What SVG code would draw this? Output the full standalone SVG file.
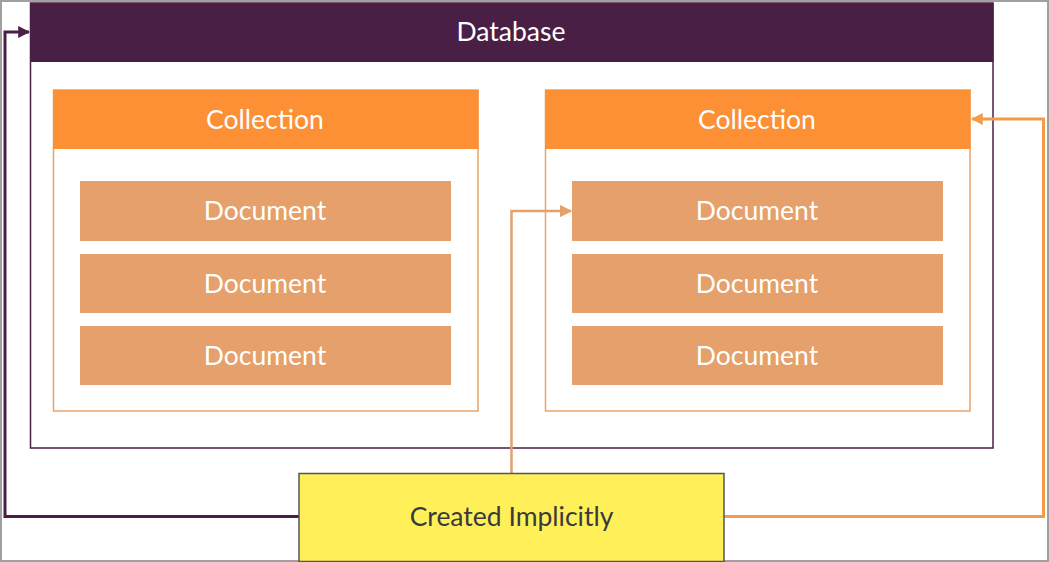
<svg xmlns="http://www.w3.org/2000/svg" width="1049" height="562" viewBox="0 0 1049 562">
<style>
.t{font-family:Lato,"Open Sans","Liberation Sans",sans-serif;font-size:26.5px;text-anchor:middle;dominant-baseline:central}
.w{fill:#ffffff}
.doc{fill:#e5a06b}
.coll{fill:#ffffff;stroke:#e9a265;stroke-width:1.5}
.chead{fill:#fd9035}
</style>
<defs>
<marker id="ap" viewBox="0 0 10 10" refX="9" refY="5" markerWidth="4" markerHeight="4" orient="auto" markerUnits="strokeWidth"><path d="M0,0L10,5L0,10z" fill="#4a1f45"/></marker>
<marker id="ao" viewBox="0 0 10 10" refX="9" refY="5" markerWidth="4" markerHeight="4" orient="auto" markerUnits="strokeWidth"><path d="M0,0L10,5L0,10z" fill="#f39a4b"/></marker>
<marker id="ad" viewBox="0 0 10 10" refX="9" refY="5" markerWidth="5" markerHeight="5" orient="auto" markerUnits="strokeWidth"><path d="M0,0L10,5L0,10z" fill="#e5a06b"/></marker>
</defs>
<rect x="0" y="0" width="1049" height="562" fill="#ffffff"/>
<rect x="1" y="1" width="1047" height="560" fill="none" stroke="#a0a0a0" stroke-width="2"/>
<g id="database">
<rect x="30.5" y="3" width="962.5" height="445" fill="#ffffff" stroke="#4a1f45" stroke-width="1.5"/>
<rect x="30" y="3" width="963.5" height="59" fill="#4a1f45"/>
<text class="t w" x="511" y="31">Database</text>
</g>
<g id="collection-left">
<rect class="coll" x="53.5" y="90" width="424.5" height="321"/>
<rect class="chead" x="53" y="90" width="425.5" height="59"/>
<text class="t w" x="265" y="118.5">Collection</text>
</g>
<g id="collection-right">
<rect class="coll" x="545.5" y="90" width="424.5" height="321"/>
<rect class="chead" x="545" y="90" width="425.5" height="59"/>
<text class="t w" x="757" y="118.5">Collection</text>
</g>
<g id="doc-l1"><rect class="doc" x="80" y="181" width="371" height="60"/><text class="t w" x="265" y="210">Document</text></g>
<g id="doc-l2"><rect class="doc" x="80" y="254" width="371" height="59"/><text class="t w" x="265" y="282.5">Document</text></g>
<g id="doc-l3"><rect class="doc" x="80" y="326" width="371" height="59"/><text class="t w" x="265" y="354.5">Document</text></g>
<g id="doc-r1"><rect class="doc" x="572" y="181" width="371" height="60"/><text class="t w" x="757" y="210">Document</text></g>
<g id="doc-r2"><rect class="doc" x="572" y="254" width="371" height="59"/><text class="t w" x="757" y="282.5">Document</text></g>
<g id="doc-r3"><rect class="doc" x="572" y="326" width="371" height="59"/><text class="t w" x="757" y="354.5">Document</text></g>
<g id="connectors" fill="none">
<path d="M299,516.5H5V32H29" stroke="#4a1f45" stroke-width="3" marker-end="url(#ap)"/>
<path d="M724,516.5H1043.5V119H972" stroke="#f39a4b" stroke-width="3" marker-end="url(#ao)"/>
<path d="M511.5,473V211H571" stroke="#e5a06b" stroke-width="2.5" marker-end="url(#ad)"/>
</g>
<g id="created-implicitly">
<rect x="299" y="473.5" width="425" height="88" fill="#fff05a" stroke="#555555" stroke-width="1.5"/>
<text class="t" x="511.5" y="515.5" fill="#3a3a3a">Created Implicitly</text>
</g>
</svg>
